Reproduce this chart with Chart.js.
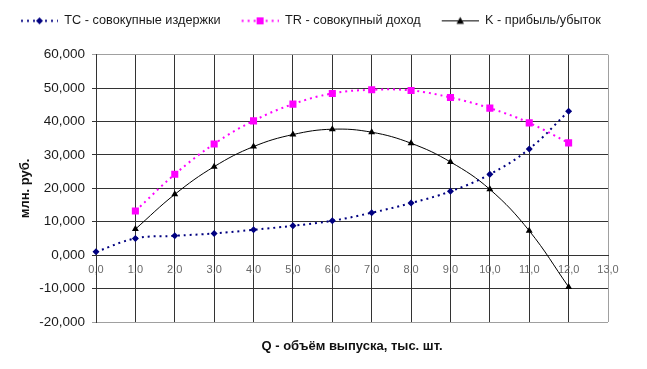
<!DOCTYPE html>
<html>
<head>
<meta charset="utf-8">
<script src="https://cdn.jsdelivr.net/npm/chart.js@4/dist/chart.umd.min.js"></script>
<style>
  html, body { margin: 0; padding: 0; background: #fff; }
  #wrap { width: 647px; height: 369px; }
</style>
</head>
<body>
<div id="wrap"><canvas id="grafico"></canvas></div>
<script>
// объём выпуска, тыс. шт.
let q = [0, 1, 2, 3, 4, 5, 6, 7, 8, 9, 10, 11, 12];
// совокупные издержки
let tc = [1.0, 5.0, 5.8, 6.5, 7.6, 8.8, 10.3, 12.7, 15.6, 19.1, 24.2, 31.8, 43.1];
// совокупный доход
let tr = [null, 13.2, 24.2, 33.3, 40.2, 45.2, 48.4, 49.5, 49.3, 47.2, 44.0, 39.6, 33.6];
// прибыль/убыток
let k = [null, 7.8, 18.2, 26.5, 32.5, 36.1, 37.7, 36.8, 33.5, 27.9, 19.7, 7.3, -9.5];

let nomes = ["TC - совокупные издержки", "TR - совокупный доход", "K - прибыль/убыток"];

function pontos(valores) {
  let lista = [];
  for (let i = 0; i < q.length; i++) {
    if (valores[i] !== null) lista.push({ x: q[i], y: valores[i] });
  }
  return lista;
}

// amostra da legenda: linha + marcador
function icone(cor, dash, largura, marcador) {
  let c = document.createElement("canvas");
  c.width = 48;
  c.height = 12;
  let g = c.getContext("2d");
  g.strokeStyle = cor;
  g.lineWidth = largura;
  g.setLineDash(dash);
  g.beginPath();
  g.moveTo(11, 6.5);
  g.lineTo(48, 6.5);
  g.stroke();
  g.fillStyle = cor;
  g.beginPath();
  let cx = 29.5, cy = 6.5;
  if (marcador == "diamond") {
    g.moveTo(cx, cy - 3.5); g.lineTo(cx + 3.5, cy); g.lineTo(cx, cy + 3.5); g.lineTo(cx - 3.5, cy);
  } else if (marcador == "square") {
    g.rect(cx - 3.5, cy - 3.5, 7, 7);
  } else {
    g.moveTo(cx, cy - 4); g.lineTo(cx + 3.7, cy + 3); g.lineTo(cx - 3.7, cy + 3);
  }
  g.closePath();
  g.fill();
  return c;
}

let icones = [
  icone("#000080", [2, 4], 2, "diamond"),
  icone("#ff00ff", [2, 4], 2, "square"),
  icone("#000000", [], 1, "triangle"),
];

function corGrade(ctx, borda) {
  if (!ctx.tick) return "#333";
  return borda.indexOf(ctx.tick.value) >= 0 ? "#a0a0a0" : "#333";
}

let config = {
  type: "line",
  data: {
    datasets: [
      {
        label: nomes[0],
        data: pontos(tc),
        borderColor: "#000080",
        backgroundColor: "#000080",
        borderWidth: 2,
        borderDash: [2, 4],
        pointStyle: "rectRot",
        pointRadius: 3.5,
        pointBorderWidth: 0,
        tension: 0.4,
        clip: 8,
      },
      {
        label: nomes[1],
        data: pontos(tr),
        borderColor: "#ff00ff",
        backgroundColor: "#ff00ff",
        borderWidth: 2,
        borderDash: [2, 4],
        pointStyle: "rect",
        pointRadius: 5,
        pointBorderWidth: 0,
        tension: 0.4,
        clip: 8,
      },
      {
        label: nomes[2],
        data: pontos(k),
        borderColor: "#000000",
        backgroundColor: "#000000",
        borderWidth: 1,
        pointStyle: "triangle",
        pointRadius: 4,
        pointBorderWidth: 0,
        tension: 0.4,
        clip: 8,
      },
    ],
  },
  options: {
    responsive: true,
    maintainAspectRatio: false,
    animation: false,
    layout: { padding: { top: 4, left: 0, right: 0, bottom: 0 } },
    scales: {
      x: {
        type: "linear",
        position: { y: 0 },
        min: 0,
        max: 13,
        ticks: {
          stepSize: 1,
          padding: 8,
          color: "#6a6a6a",
          font: { family: "'Liberation Sans', Arial", size: 11 },
          maxRotation: 0,
          callback: (v) => v.toFixed(1).replace(".", ","),
        },
        grid: {
          drawTicks: false,
          color: (ctx) => corGrade(ctx, [13]),
          lineWidth: 1,
        },
        border: { color: "#333" },
      },
      xTitulo: {
        type: "linear",
        position: "bottom",
        min: 0,
        max: 13,
        ticks: { display: false },
        grid: { display: false, drawTicks: false },
        border: { display: false },
        title: {
          display: true,
          text: "Q - объём выпуска, тыс. шт.",
          color: "#111",
          font: { family: "'Liberation Sans', Arial", size: 13, weight: "bold" },
          padding: { top: 0, bottom: 15 },
        },
        afterFit: (s) => { s.height = 47; },
      },
      xTopo: {
        type: "linear",
        position: "top",
        min: 0,
        max: 13,
        ticks: { display: false },
        grid: { display: false, drawTicks: false },
        border: { display: false },
        afterFit: (s) => { s.height = 18; },
      },
      y: {
        type: "linear",
        position: "left",
        min: -20,
        max: 60,
        ticks: {
          stepSize: 10,
          padding: 7,
          color: "#1a1a1a",
          font: { family: "'Liberation Sans', Arial", size: 13.5 },
          callback: (v) => v.toFixed(3).replace(".", ","),
        },
        grid: {
          tickLength: 4,
          color: (ctx) => corGrade(ctx, [60, -20]),
          lineWidth: 1,
        },
        border: { color: "#333" },
        title: {
          display: true,
          text: "млн. руб.",
          color: "#111",
          font: { family: "'Liberation Sans', Arial", size: 13, weight: "bold" },
          padding: { top: 18, bottom: 0 },
        },
        afterFit: (s) => { s.width = 96; },
      },
      yDireita: {
        type: "linear",
        position: "right",
        min: -20,
        max: 60,
        ticks: { display: false },
        grid: { display: false, drawTicks: false },
        border: { display: false },
        afterFit: (s) => { s.width = 39; },
      },
    },
    plugins: {
      title: { display: false },
      tooltip: { enabled: false },
      legend: {
        position: "top",
        align: "start",
        labels: {
          usePointStyle: true,
          pointStyleWidth: 48,
          boxHeight: 12,
          padding: 10,
          color: "#1a1a1a",
          font: { family: "'Liberation Sans', Arial", size: 12.7 },
          generateLabels: function (chart) {
            let itens = Chart.defaults.plugins.legend.labels.generateLabels(chart);
            itens.forEach((item, i) => { item.pointStyle = icones[i]; });
            return itens;
          },
        },
      },
    },
  },
};

let ctx = document.getElementById("grafico").getContext("2d");
window.grafico = new Chart(ctx, config);
</script>
</body>
</html>
